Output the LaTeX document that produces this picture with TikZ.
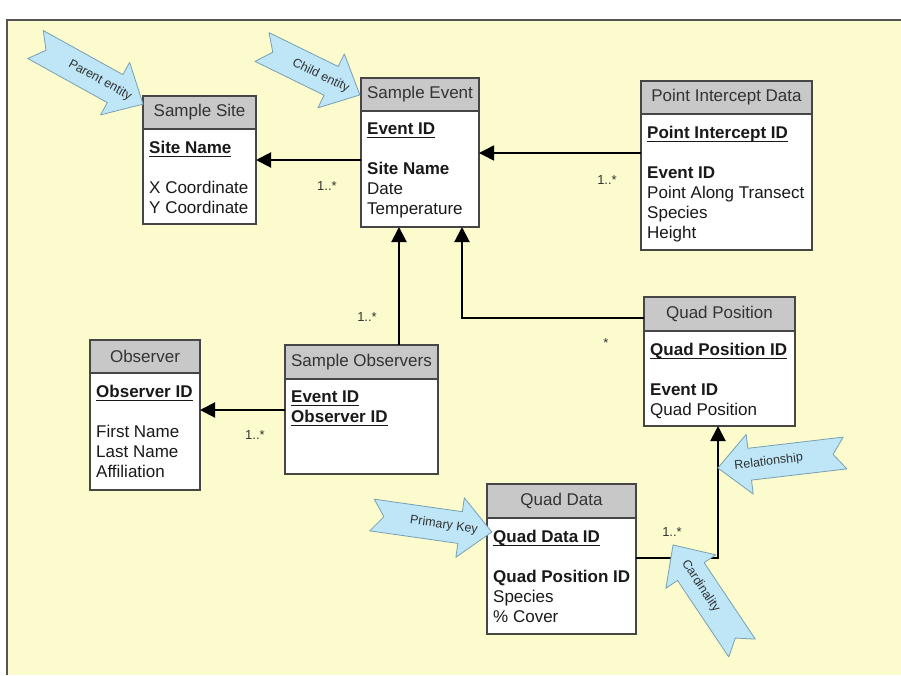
\documentclass[tikz,border=0pt]{standalone}
\usepackage{fontspec}
\setmainfont{Liberation Sans}
\usepackage{tikz}
\usetikzlibrary{arrows.meta, positioning}
\definecolor{paperYellow}{RGB}{251,251,205}
\definecolor{frameGray}{RGB}{85,85,85}
\definecolor{headGray}{RGB}{200,200,200}
\definecolor{boxLine}{RGB}{70,70,70}
\definecolor{calloutBlue}{RGB}{190,230,247}
\definecolor{calloutEdge}{RGB}{120,160,178}
\newcommand{\pkey}[1]{\setbox0\hbox{\textbf{#1}}\rlap{\rule[-3.5pt]{\wd0}{1.3pt}}\box0}
\tikzset{
  entity head/.style={draw=boxLine, fill=headGray, line width=1.5pt, outer sep=0pt, inner sep=0pt,
    minimum height=33pt, anchor=north west, text=black!80, font=\fontsize{17}{20}\selectfont},
  entity body/.style={draw=boxLine, fill=white, line width=1.5pt, outer sep=0pt, inner sep=0pt},
  fields/.style={anchor=north west, align=left, inner sep=0pt, text=black!90, font=\fontsize{17}{20}\selectfont},
  rel/.style={line width=2pt, -{Triangle[length=15pt,width=15pt]}},
  card/.style={text=black!80, font=\fontsize{13}{15}\selectfont},
  callout/.style={fill=calloutBlue, draw=calloutEdge, line width=0.8pt, line join=round},
  calltext/.style={transform shape, text=black!80, font=\fontsize{12.5}{14}\selectfont},
  pics/notched/.style args={#1/#2/#3}{code={
    \draw[callout] (0,-16) -- ({#1-32},-16) -- ({#1-32},-30) -- (#1,0) -- ({#1-32},30)
      -- ({#1-32},16) -- (0,16) -- (12,0) -- cycle;
    \node[calltext, rotate=#3] (-text) at ({0.6*#1},0) {#2};
  }}
}

\begin{document}
\begin{tikzpicture}[x=1pt, y=-1pt]
\useasboundingbox (0,0) rectangle (901,675);
% frame
\fill[paperYellow] (7,20) rectangle (901,675);
\draw[frameGray, line width=2.5pt] (7,675) -- (7,20) -- (901,20);

% entities
\node[entity head, minimum width=113pt] (siteH) at (143,96) {Sample Site};
\node[entity body, below=0pt of siteH, minimum width=113pt, minimum height=95pt] (site) {};
\node[fields] (siteF) at ([xshift=6pt,yshift=-12pt]site.north west)
  {\pkey{Site Name}\\[20pt] X Coordinate\\ Y Coordinate};

\node[entity head, minimum width=118pt] (eventH) at (361,78) {Sample Event};
\node[entity body, below=0pt of eventH, minimum width=118pt, minimum height=116pt] (event) {};
\node[fields] (eventF) at ([xshift=6pt,yshift=-12pt]event.north west)
  {\pkey{Event ID}\\[20pt] \textbf{Site Name}\\ Date\\ Temperature};

\node[entity head, minimum width=171pt] (pointH) at (641,81) {Point Intercept Data};
\node[entity body, below=0pt of pointH, minimum width=171pt, minimum height=136pt] (point) {};
\node[fields] (pointF) at ([xshift=6pt,yshift=-12pt]point.north west)
  {\pkey{Point Intercept ID}\\[20pt] \textbf{Event ID}\\ Point Along Transect\\ Species\\ Height};

\node[entity head, minimum width=151pt, minimum height=34pt] (qposH) at (644,297) {Quad Position};
\node[entity body, below=0pt of qposH, minimum width=151pt, minimum height=95pt] (qpos) {};
\node[fields] (qposF) at ([xshift=6pt,yshift=-12pt]qpos.north west)
  {\pkey{Quad Position ID}\\[20pt] \textbf{Event ID}\\ Quad Position};

\node[entity head, minimum width=153pt, minimum height=34pt] (sobsH) at (285,345) {Sample Observers};
\node[entity body, below=0pt of sobsH, minimum width=153pt, minimum height=95pt] (sobs) {};
\node[fields] (sobsF) at ([xshift=6pt,yshift=-12pt]sobs.north west)
  {\pkey{Event ID}\\ \pkey{Observer ID}};

\node[entity head, minimum width=110pt] (observerH) at (90,340) {Observer};
\node[entity body, below=0pt of observerH, minimum width=110pt, minimum height=117pt] (observer) {};
\node[fields] (observerF) at ([xshift=6pt,yshift=-12pt]observer.north west)
  {\pkey{Observer ID}\\[20pt] First Name\\ Last Name\\ Affiliation};

\node[entity head, minimum width=149pt, minimum height=34pt] (qdataH) at (487,484) {Quad Data};
\node[entity body, below=0pt of qdataH, minimum width=149pt, minimum height=116pt] (qdata) {};
\node[fields] (qdataF) at ([xshift=6pt,yshift=-12pt]qdata.north west)
  {\pkey{Quad Data ID}\\[20pt] \textbf{Quad Position ID}\\ Species\\ \% Cover};

% relationships
\draw[rel] ([yshift=9pt]event.west) -- ([yshift=9pt]event.west -| site.east);
\draw[rel, line width=1.5pt] ([yshift=29pt]point.west) -- ([yshift=29pt]point.west -| event.east);
\draw[rel] ([xshift=37.5pt]sobsH.north) -- ([xshift=37.5pt]sobsH.north |- event.south);
\draw[rel] ([yshift=-4pt]qposH.west) -| ([xshift=42pt]event.south);
\draw[rel] ([yshift=16.5pt]sobs.west) -- ([yshift=16.5pt]sobs.west -| observer.east);
\draw[rel] ([yshift=18pt]qdata.east) -| ([xshift=-1.5pt]qpos.south);

% cardinalities
\node[card] (cSite) at (327,186) {1..*};
\node[card] (cPoint) at (607,180) {1..*};
\node[card] (cSobs) at (367,317) {1..*};
\node[card] (cQpos) at (606,343) {*};
\node[card] (cObserver) at (255,435) {1..*};
\node[card] (cQdata) at (672,532) {1..*};

% callouts
\pic[rotate=-29] (parent) at (35.5,44.5) {notched=123/Parent entity/0};
\pic[rotate=-26.1] (child) at (262,47) {notched=109/Child entity/0};
\pic[rotate=-8.1] (primary) at (372,515) {notched=121/Primary Key/0};
\pic[rotate=186.7] (relation) at (845,453) {notched=128/Relationship/180};
\pic[rotate=123.8] (cardinal) at (742,648) {notched=124/Cardinality/180};
\end{tikzpicture}
\end{document}
